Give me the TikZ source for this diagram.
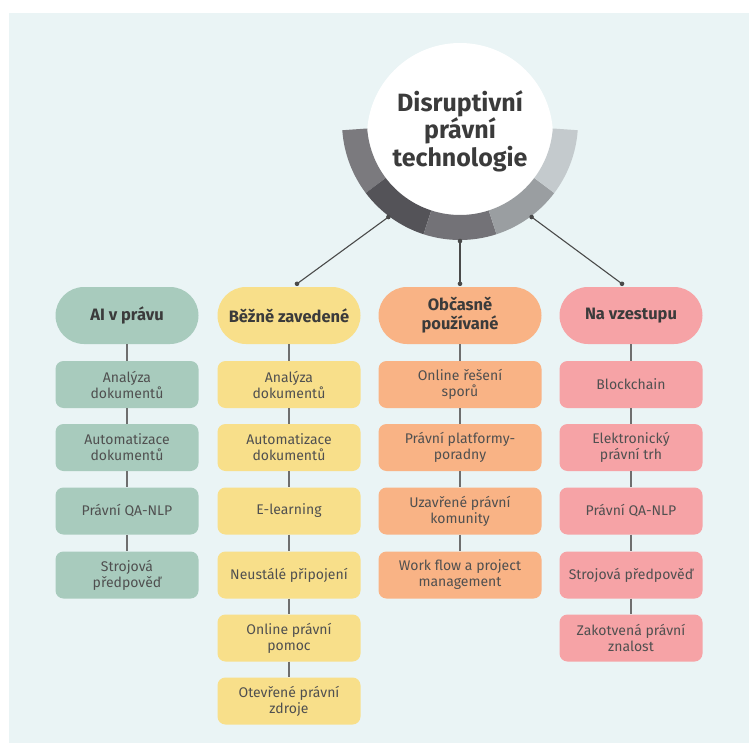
\documentclass[tikz,border=0pt]{standalone}
\usepackage{fontspec}
\setmainfont{Fira Sans}
\usetikzlibrary{calc}
\definecolor{bg}{HTML}{EAF4F5}
\definecolor{sage}{HTML}{A8CBBD}
\definecolor{yel}{HTML}{F8DF8A}
\definecolor{ora}{HTML}{F9B385}
\definecolor{pink}{HTML}{F6A3A6}
\definecolor{htxt}{HTML}{3B3B3B}
\definecolor{itxt}{HTML}{505050}
\definecolor{lnk}{HTML}{6E6E6E}
\definecolor{hubln}{HTML}{4A4A4A}
\definecolor{rgA}{HTML}{7B7A7E}
\definecolor{rgB}{HTML}{545358}
\definecolor{rgC}{HTML}{737277}
\definecolor{rgD}{HTML}{9A9EA1}
\definecolor{rgE}{HTML}{C4CACD}
\newcommand{\ringseg}[3]{%
  \fill[#1] ($(rc)+(#2:118)$) arc[start angle=#2, end angle=#3, radius=118]
    -- ($(rc)+(#3:93)$) arc[start angle=#3, end angle=#2, radius=93] -- cycle;}
\tikzset{
  head/.style={rounded corners=28.5pt, minimum height=57pt, minimum width=143pt,
    text=htxt, font=\fontsize{16.5}{19}\selectfont\bfseries, align=center, inner sep=0pt},
  item/.style={rounded corners=8pt, minimum height=47pt, minimum width=143pt,
    text=itxt, font=\fontsize{14}{16}\selectfont, align=center, inner sep=0pt},
  wide/.style={minimum width=163pt},
  link/.style={draw=lnk, line width=1.2pt},
  hubline/.style={draw=hubln, line width=1.1pt},
  hubdot/.style={fill=hubln},
  title/.style={text=htxt, font=\fontsize{25}{27.5}\selectfont\bfseries, align=center, inner sep=0pt}
}
\begin{document}
\begin{tikzpicture}[x=1pt,y=-1pt]
\useasboundingbox (0,0) rectangle (749,743);
\fill[bg] (9,13) rectangle (749,743);
% hub
\coordinate (rc) at (460,122);
\fill[white] (460,136) circle[radius=93];
\ringseg{rgA}{176}{143}
\ringseg{rgB}{143}{108}
\ringseg{rgC}{108}{72}
\ringseg{rgD}{72}{37}
\ringseg{rgE}{37}{4}
\node[title] (hub) at (460,131) {Disruptivní\\právní\\technologie};
\coordinate (rL) at ($(rc)+(127:119)$);
\coordinate (rM) at ($(rc)+(90:119)$);
\coordinate (rR) at ($(rc)+(53:119)$);
% headings
\node[head, fill=sage] (h1) at (127,315.5) {AI v právu};
\node[head, fill=yel] (h2) at (289,315.5) {Běžně zavedené};
\node[head, fill=ora, wide] (h3) at (460,315.5) {Občasně\\používané};
\node[head, fill=pink] (h4) at (631,315.5) {Na vzestupu};
\coordinate (eL) at ([shift={(8,-3)}]h2.north);
\coordinate (eM) at ([shift={(0,-3)}]h3.north);
\coordinate (eR) at ([shift={(-9,-3)}]h4.north);
% column 1
\node[item, fill=sage] (a1) at (127,384.5) {Analýza\\dokumentů};
\node[item, fill=sage] (a2) at (127,447.5) {Automatizace\\dokumentů};
\node[item, fill=sage] (a3) at (127,511) {Právní QA-NLP};
\node[item, fill=sage] (a4) at (127,575) {Strojová\\předpověď};
% column 2
\node[item, fill=yel] (b1) at (289,384.5) {Analýza\\dokumentů};
\node[item, fill=yel] (b2) at (289,447.5) {Automatizace\\dokumentů};
\node[item, fill=yel] (b3) at (289,511) {E-learning};
\node[item, fill=yel] (b4) at (289,575) {Neustálé připojení};
\node[item, fill=yel] (b5) at (289,638) {Online právní\\pomoc};
\node[item, fill=yel] (b6) at (289,701) {Otevřené právní\\zdroje};
% column 3
\node[item, fill=ora, wide] (c1) at (460,384.5) {Online řešení\\sporů};
\node[item, fill=ora, wide] (c2) at (460,447.5) {Právní platformy-\\poradny};
\node[item, fill=ora, wide] (c3) at (460,511) {Uzavřené právní\\komunity};
\node[item, fill=ora, wide] (c4) at (460,575) {Work flow a project\\management};
% column 4
\node[item, fill=pink] (d1) at (631,384.5) {Blockchain};
\node[item, fill=pink] (d2) at (631,447.5) {Elektronický\\právní trh};
\node[item, fill=pink] (d3) at (631,511) {Právní QA-NLP};
\node[item, fill=pink] (d4) at (631,575) {Strojová předpověď};
\node[item, fill=pink] (d5) at (631,638) {Zakotvená právní\\znalost};
% vertical links
\draw[link] (h1.south) -- (a1.north);
\draw[link] (a1.south) -- (a2.north);
\draw[link] (a2.south) -- (a3.north);
\draw[link] (a3.south) -- (a4.north);
\draw[link] (h2.south) -- (b1.north);
\draw[link] (b1.south) -- (b2.north);
\draw[link] (b2.south) -- (b3.north);
\draw[link] (b3.south) -- (b4.north);
\draw[link] (b4.south) -- (b5.north);
\draw[link] (b5.south) -- (b6.north);
\draw[link] (h3.south) -- (c1.north);
\draw[link] (c1.south) -- (c2.north);
\draw[link] (c2.south) -- (c3.north);
\draw[link] (c3.south) -- (c4.north);
\draw[link] (h4.south) -- (d1.north);
\draw[link] (d1.south) -- (d2.north);
\draw[link] (d2.south) -- (d3.north);
\draw[link] (d3.south) -- (d4.north);
\draw[link] (d4.south) -- (d5.north);
% hub links
\draw[hubline] (rL) -- (eL);
\draw[hubline] (rM) -- (eM);
\draw[hubline] (rR) -- (eR);
\foreach \p in {rL,rM,rR,eL,eM,eR} \fill[hubdot] (\p) circle[radius=2.3];
\end{tikzpicture}
\end{document}
